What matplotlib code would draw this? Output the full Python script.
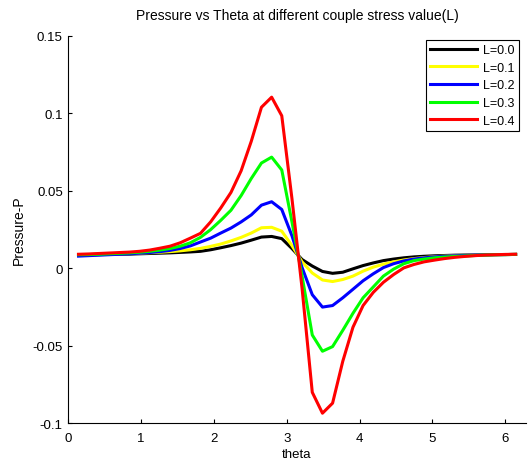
import matplotlib
matplotlib.use("Agg")
import matplotlib.pyplot as plt

plt.rcParams["font.family"] = ["Liberation Sans", "DejaVu Sans"]
plt.rcParams["font.size"] = 9.5

# theta grid (rad)
theta = [0.140, 0.279, 0.419, 0.559, 0.698, 0.838, 0.977, 1.117, 1.257, 1.396,
         1.536, 1.676, 1.815, 1.955, 2.094, 2.234, 2.374, 2.513, 2.653, 2.793,
         2.932, 3.072, 3.211, 3.351, 3.491, 3.630, 3.770, 3.910, 4.049, 4.189,
         4.328, 4.468, 4.608, 4.747, 4.887, 5.027, 5.166, 5.306, 5.445, 5.585,
         5.725, 5.864, 6.004, 6.144]

p_L00 = [0.0088, 0.0088, 0.0089, 0.0090, 0.0091, 0.0092, 0.0094, 0.0096, 0.0098, 0.0100,
         0.0103, 0.0106, 0.0110, 0.0120, 0.0133, 0.0147, 0.0163, 0.0182, 0.0202, 0.0206,
         0.0192, 0.0128, 0.0057, 0.0015, -0.0020, -0.0032, -0.0025, -0.0003, 0.0018, 0.0035,
         0.0050, 0.0060, 0.0068, 0.0074, 0.0078, 0.0081, 0.0083, 0.0085, 0.0086, 0.0087,
         0.0088, 0.0089, 0.0089, 0.0090]

p_L01 = [0.0088, 0.0089, 0.0090, 0.0092, 0.0094, 0.0096, 0.0098, 0.0101, 0.0104, 0.0108,
         0.0113, 0.0120, 0.0129, 0.0142, 0.0157, 0.0177, 0.0200, 0.0228, 0.0262, 0.0265,
         0.0240, 0.0147, 0.0042, -0.0030, -0.0075, -0.0085, -0.0072, -0.0050, -0.0018, 0.0008,
         0.0027, 0.0042, 0.0054, 0.0063, 0.0070, 0.0075, 0.0079, 0.0082, 0.0084, 0.0086,
         0.0087, 0.0088, 0.0089, 0.0090]

p_L02 = [0.0079, 0.0082, 0.0085, 0.0088, 0.0091, 0.0094, 0.0098, 0.0102, 0.0108, 0.0116,
         0.0128, 0.0145, 0.0170, 0.0195, 0.0228, 0.0260, 0.0300, 0.0345, 0.0408, 0.0430,
         0.0380, 0.0210, 0.0005, -0.0170, -0.0250, -0.0240, -0.0190, -0.0135, -0.0080, -0.0035,
         0.0005, 0.0030, 0.0048, 0.0060, 0.0068, 0.0074, 0.0078, 0.0081, 0.0084, 0.0086,
         0.0087, 0.0088, 0.0089, 0.0090]

p_L03 = [0.0088, 0.0089, 0.0091, 0.0094, 0.0097, 0.0100, 0.0104, 0.0110, 0.0118, 0.0128,
         0.0143, 0.0165, 0.0200, 0.0250, 0.0310, 0.0375, 0.0470, 0.0580, 0.0680, 0.0718,
         0.0635, 0.0300, -0.0050, -0.0430, -0.0535, -0.0505, -0.0400, -0.0290, -0.0190, -0.0120,
         -0.0050, -0.0005, 0.0030, 0.0050, 0.0060, 0.0068, 0.0073, 0.0077, 0.0080, 0.0083,
         0.0086, 0.0088, 0.0089, 0.0090]

p_L04 = [0.0091, 0.0093, 0.0096, 0.0099, 0.0102, 0.0105, 0.0110, 0.0118, 0.0130, 0.0143,
         0.0165, 0.0195, 0.0226, 0.0300, 0.0390, 0.0490, 0.0630, 0.0820, 0.1040, 0.1105,
         0.0985, 0.0450, -0.0130, -0.0800, -0.0935, -0.0870, -0.0600, -0.0380, -0.0240, -0.0155,
         -0.0090, -0.0040, 0.0003, 0.0025, 0.0042, 0.0053, 0.0063, 0.0071, 0.0077, 0.0082,
         0.0086, 0.0088, 0.0090, 0.0091]

labels = ["L=0.0", "L=0.1", "L=0.2", "L=0.3", "L=0.4"]
colors = ["#000000", "#ffff00", "#0000ff", "#00ff00", "#ff0000"]
series = [p_L00, p_L01, p_L02, p_L03, p_L04]

fig = plt.figure(figsize=(5.28, 4.64), dpi=100)
ax = fig.add_axes([0.1294, 0.0856, 0.8663, 0.8347])

for p, c, lab in zip(series, colors, labels):
    ax.plot(theta, p, color=c, lw=2.2, label=lab)

ax.set_xlim(0, 6.2832)
ax.set_ylim(-0.1, 0.15)
ax.set_xticks([0, 1, 2, 3, 4, 5, 6])
ax.set_yticks([-0.1, -0.05, 0, 0.05, 0.1, 0.15])
ax.set_yticklabels(["-0.1", "-0.05", "0", "0.05", "0.1", "0.15"])
ax.tick_params(direction="in", length=3, width=0.8)
ax.tick_params(axis="x", pad=6)
ax.tick_params(axis="y", pad=4)
ax.spines["top"].set_visible(False)
ax.spines["right"].set_visible(False)

ax.set_title("Pressure vs Theta at different couple stress value(L)", pad=12,
             family=["Liberation Sans Narrow", "Liberation Sans"], fontsize=10)
ax.set_xlabel("theta", labelpad=3)
ax.set_ylabel("Pressure-P", labelpad=5, fontsize=10)

leg = ax.legend(loc="upper right", bbox_to_anchor=(0.985, 0.99), borderaxespad=0,
                fancybox=False, framealpha=1, edgecolor="black", fontsize=9,
                handlelength=3.7, labelspacing=0.45, handletextpad=0.5,
                borderpad=0.35)
leg.get_frame().set_linewidth(0.8)

fig.savefig("out.png", dpi=100)
